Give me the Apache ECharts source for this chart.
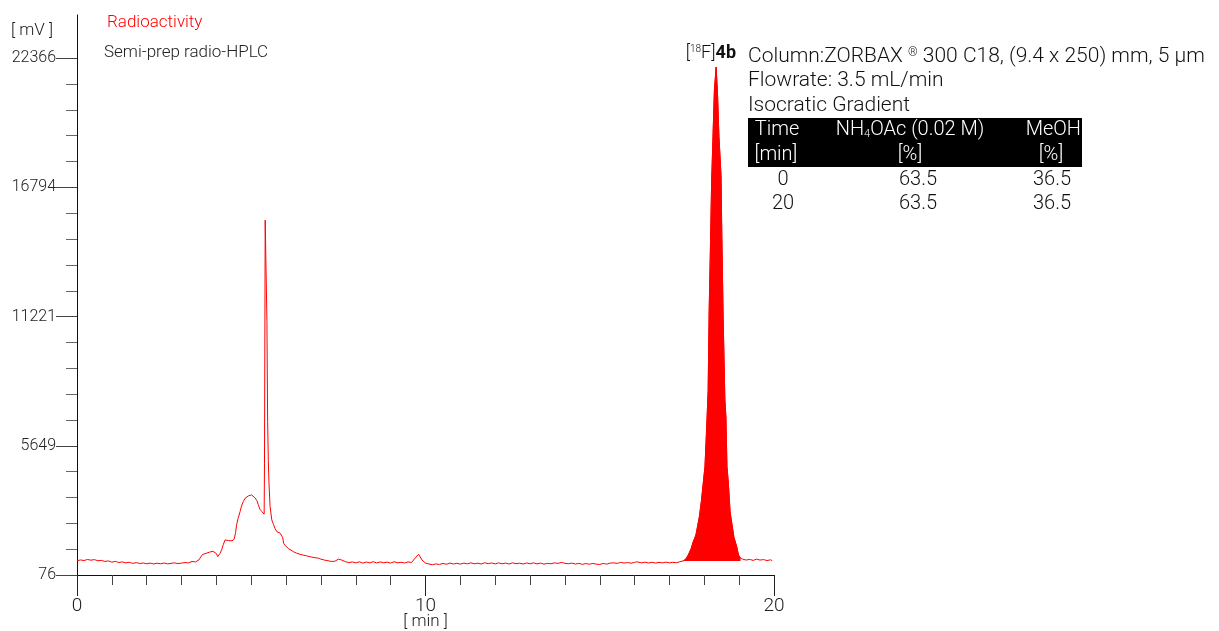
<!DOCTYPE html>
<html>
<head>
<meta charset="utf-8">
<title>Semi-prep radio-HPLC</title>
<script src="https://cdn.jsdelivr.net/npm/echarts@6/dist/echarts.min.js"></script>
<style>
  html, body { margin: 0; padding: 0; background: #fff; }
  #chart { width: 1219px; height: 631px; }
</style>
</head>
<body>
<div id="chart"></div>
<script>
// retention time [min] and detector signal [mV]
var time = [
  0.0, 0.1, 0.2, 0.3, 0.4, 0.5, 0.6, 0.7, 0.8, 0.9,
  1.0, 1.1, 1.2, 1.3, 1.4, 1.5, 1.6, 1.7, 1.8, 1.9,
  2.0, 2.1, 2.2, 2.3, 2.4, 2.5, 2.6, 2.7, 2.8, 2.9,
  3.0, 3.1, 3.2, 3.3, 3.4, 3.5, 3.55, 3.6, 3.7, 3.8, 3.9, 3.95,
  4.0, 4.04, 4.1, 4.15, 4.2, 4.25, 4.3, 4.35, 4.4, 4.45, 4.51, 4.55, 4.58, 4.62, 4.68, 4.72, 4.77, 4.82, 4.87, 4.92, 4.97,
  5.01, 5.06, 5.11, 5.16, 5.2, 5.25, 5.3, 5.35, 5.37, 5.38, 5.40, 5.43, 5.45, 5.47, 5.49, 5.51, 5.54, 5.59, 5.64, 5.68, 5.73, 5.78, 5.83, 5.87, 5.9, 5.93, 5.97,
  6.02, 6.08, 6.14, 6.21, 6.3, 6.4, 6.5, 6.59, 6.7, 6.8, 6.93,
  7.0, 7.1, 7.2, 7.3, 7.4, 7.5, 7.55, 7.6, 7.7, 7.8, 7.9,
  8.0, 8.1, 8.2, 8.3, 8.4, 8.5, 8.6, 8.7, 8.8, 8.9,
  9.0, 9.1, 9.2, 9.3, 9.4, 9.5, 9.6, 9.7, 9.8, 9.85, 9.9,
  10.0, 10.1, 10.2, 10.3, 10.4, 10.5, 10.6, 10.7, 10.8, 10.9,
  11.0, 11.1, 11.2, 11.3, 11.4, 11.5, 11.6, 11.7, 11.8, 11.9,
  12.0, 12.1, 12.2, 12.3, 12.4, 12.5, 12.6, 12.7, 12.8, 12.9,
  13.0, 13.1, 13.2, 13.3, 13.4, 13.5, 13.6, 13.7, 13.8, 13.9, 13.95,
  14.0, 14.1, 14.2, 14.3, 14.4, 14.5, 14.6, 14.7, 14.8, 14.9,
  15.0, 15.1, 15.2, 15.3, 15.4, 15.5, 15.6, 15.7, 15.8, 15.9,
  16.0, 16.06, 16.1, 16.2, 16.3, 16.4, 16.5, 16.6, 16.7, 16.8, 16.9,
  17.0, 17.1, 17.2, 17.3, 17.39, 17.47, 17.54, 17.62, 17.68, 17.76, 17.86, 17.92, 17.97,
  18.02, 18.07, 18.11, 18.14, 18.18, 18.21, 18.25, 18.29, 18.34, 18.38, 18.42, 18.48, 18.50, 18.54, 18.59, 18.62, 18.65, 18.69, 18.74, 18.79, 18.85, 18.93, 18.98,
  19.04, 19.1, 19.2, 19.3, 19.4, 19.5, 19.6, 19.7, 19.8, 19.9, 19.95
];
var signal = [
  690, 725, 700, 745, 715, 740, 690, 705, 660, 685,
  630, 665, 615, 640, 600, 625, 575, 610, 570, 595,
  560, 590, 555, 585, 560, 595, 555, 580, 600, 565,
  590, 610, 600, 660, 640, 730, 850, 960, 1010, 1060, 1100, 1050,
  1000, 870, 1000, 1160, 1400, 1590, 1620, 1560, 1600, 1550, 1620, 1900, 2240, 2500, 2810, 3050, 3240, 3380, 3440, 3490, 3440,
  3530, 3480, 3400, 3290, 3120, 2910, 2820, 2770, 2700, 4900, 15380, 15380, 11020, 6700, 5000, 4000, 3030, 2450, 2250, 2090, 1950, 1900, 1880, 1950, 1700, 1450, 1350,
  1300, 1200, 1150, 1080, 1020, 970, 930, 900, 860, 830, 800,
  760, 720, 690, 660, 670, 760, 800, 720, 650, 610, 640,
  600, 645, 590, 635, 600, 650, 595, 640, 605, 630,
  590, 650, 600, 625, 595, 640, 615, 800, 970, 850, 720,
  590, 550, 520, 555, 530, 575, 540, 590, 550, 580,
  545, 590, 555, 600, 560, 585, 550, 605, 565, 595,
  555, 600, 560, 590, 550, 600, 565, 585, 550, 595,
  560, 600, 555, 590, 545, 580, 560, 600, 575, 620, 660,
  580, 560, 590, 550, 580, 535, 570, 540, 575, 545,
  530, 575, 545, 590, 600, 575, 620, 590, 615, 585,
  620, 645, 615, 600, 630, 595, 625, 590, 620, 600, 630,
  600, 625, 605, 650, 680, 760, 940, 1200, 1500, 1800, 2600, 3300, 4040,
  4760, 6500, 8000, 11500, 14500, 17000, 19000, 21000, 21980, 20800, 19000, 17300, 15000, 11230, 7640, 6900, 4760, 4040, 2800, 2300, 1700, 1300, 940,
  800, 760, 720, 750, 705, 760, 720, 740, 700, 730, 695
];

// the [18F]4b peak is shaded down to the local baseline
var peakFrom = 17.39;
var peakTo = 19.04;
var peakBase = 680;

// axis ticks
var yMajor = [76, 5648.5, 11221, 16793.5, 22366];
var yMax = 24230;
var xMajor = [0, 10, 20];

// HPLC conditions
var infoLines = ['Flowrate: 3.5 mL/min', 'Isocratic Gradient'];
var tableHead1 = ['Time', 'NH{sub|4}OAc (0.02 M)', 'MeOH'];
var tableHead2 = ['[min]', '[%]', '[%]'];
var tableRows = [['0', '63.5', '36.5'], ['20', '63.5', '36.5']];

var FONT = 'Roboto, "Liberation Sans", sans-serif';
var RED = '#ff0000';

var trace = time.map(function (t, i) { return [t, signal[i]]; });
var peak = trace.filter(function (p) { return p[0] >= peakFrom && p[0] <= peakTo; });

// minor ticks on y: 5 per major interval
var yMinor = [];
for (var i = 0; i < yMajor.length - 1; i++) {
  var step = (yMajor[i + 1] - yMajor[i]) / 5;
  for (var k = 1; k < 5; k++) yMinor.push(yMajor[i] + step * k);
}

var myChart = echarts.init(document.getElementById('chart'));

// table text
var tableGraphic = [
  { type: 'rect', shape: { x: 748, y: 118, width: 334, height: 49 }, style: { fill: '#000' } }
];
function cell(txt, x, y, color, align) {
  return {
    type: 'text', x: x, y: y,
    style: {
      text: txt, fill: color, font: '300 20px ' + FONT, align: align || 'center', verticalAlign: 'middle',
      rich: { sub: { fontSize: 11, fill: color, fontWeight: 300, verticalAlign: 'bottom', padding: [9, 0, 0, 0], fontFamily: FONT } }
    }
  };
}
tableGraphic.push(cell(tableHead1[0], 777, 130, '#fff'));
tableGraphic.push(cell(tableHead1[1], 910, 130, '#fff'));
tableGraphic.push(cell(tableHead1[2], 1081, 130, '#fff', 'right'));
tableGraphic.push(cell(tableHead2[0], 776, 155, '#fff'));
tableGraphic.push(cell(tableHead2[1], 910, 155, '#fff'));
tableGraphic.push(cell(tableHead2[2], 1051, 155, '#fff'));
tableRows.forEach(function (row, r) {
  row.forEach(function (v, c) {
    tableGraphic.push(cell(v, [783, 918, 1052][c], 180 + r * 24, '#111'));
  });
});

var option = {
  animation: false,
  grid: { left: 77, right: 445, top: 15, bottom: 56, outerBoundsMode: 'none' },
  xAxis: [
    {
      type: 'value', min: 0, max: 20, interval: 1,
      name: '[ min ]', nameLocation: 'middle', nameGap: 38, nameMoveOverlap: false,
      nameTextStyle: { fontFamily: FONT, fontWeight: 300, fontSize: 17, color: '#222' },
      axisLine: { lineStyle: { color: '#111', width: 1 } },
      axisTick: { length: 10, lineStyle: { color: '#444' } },
      axisLabel: { customValues: xMajor, margin: 22, fontFamily: FONT, fontWeight: 300, fontSize: 19, color: '#222' },
      splitLine: { show: false }
    },
    {
      type: 'value', min: 0, max: 20, position: 'bottom',
      axisLine: { show: false },
      axisTick: { customValues: xMajor, length: 21, lineStyle: { color: '#222' } },
      axisLabel: { show: false },
      splitLine: { show: false }
    }
  ],
  yAxis: [
    {
      type: 'value', min: yMajor[0], max: yMax,
      axisLine: { show: true, lineStyle: { color: '#111', width: 1 } },
      axisTick: { customValues: yMajor, length: 21, lineStyle: { color: '#444' } },
      axisLabel: {
        customValues: yMajor, margin: 21, fontFamily: FONT, fontWeight: 300, fontSize: 16, color: '#222',
        formatter: function (v) { return Math.round(v); }
      },
      splitLine: { show: false }
    },
    {
      type: 'value', min: yMajor[0], max: yMax, position: 'left',
      axisLine: { show: false },
      axisTick: { customValues: yMinor, length: 11, lineStyle: { color: '#666' } },
      axisLabel: { show: false },
      splitLine: { show: false }
    }
  ],
  series: [
    {
      type: 'line', data: trace, symbol: 'none',
      lineStyle: { color: RED, width: 1 }, z: 3
    },
    {
      type: 'line', data: peak, symbol: 'none',
      lineStyle: { color: RED, width: 1 },
      areaStyle: { color: RED, opacity: 1, origin: peakBase }, z: 2
    }
  ],
  graphic: [
    { type: 'text', x: 11, y: 31, style: { text: '[ mV ]', font: '300 17px ' + FONT, fill: '#222', verticalAlign: 'middle' } },
    { type: 'text', x: 107, y: 23, style: { text: 'Radioactivity', font: '300 17px ' + FONT, fill: RED, verticalAlign: 'middle' } },
    { type: 'text', x: 104, y: 53, style: { text: 'Semi-prep radio-HPLC', font: '300 17px ' + FONT, fill: '#222', verticalAlign: 'middle' } },
    {
      type: 'text', x: 736, y: 53,
      style: {
        text: '[{sup|18}F]{b|4b}', font: '300 18px ' + FONT, fill: '#111', align: 'right', verticalAlign: 'middle',
        rich: {
          sup: { fontSize: 10, fill: '#111', fontWeight: 300, fontFamily: FONT, verticalAlign: 'top', padding: [0, 0, 7, 0] },
          b: { fontSize: 18, fontWeight: 'bold', fill: '#111', fontFamily: FONT }
        }
      }
    },
    {
      type: 'text', x: 748, y: 57,
      style: {
        text: 'Column:ZORBAX {r|®} 300 C18, (9.4 x 250) mm, 5 µm', font: '300 21px ' + FONT, fill: '#111', verticalAlign: 'middle',
        rich: { r: { fontSize: 12, fill: '#111', fontWeight: 300, fontFamily: FONT, padding: [0, 0, 9, 0] } }
      }
    },
    { type: 'text', x: 748, y: 81, style: { text: infoLines[0], font: '300 21px ' + FONT, fill: '#111', verticalAlign: 'middle' } },
    { type: 'text', x: 748, y: 106, style: { text: infoLines[1], font: '300 21px ' + FONT, fill: '#111', verticalAlign: 'middle' } }
  ].concat(tableGraphic)
};

myChart.setOption(option);
</script>
</body>
</html>
